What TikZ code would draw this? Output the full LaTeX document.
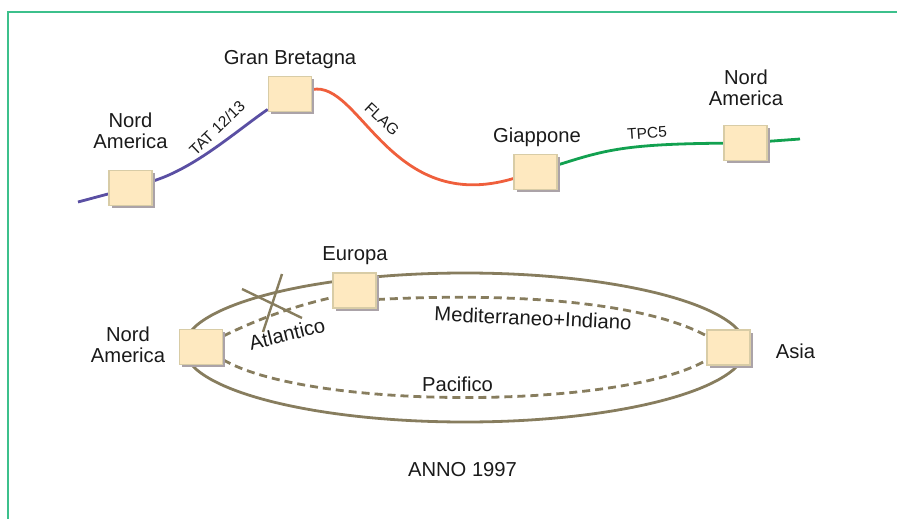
\documentclass[tikz,border=0pt]{standalone}
\usepackage{fontspec}
\setmainfont{Liberation Sans}
\usepackage{xcolor}
\usepackage{tikz}
\usetikzlibrary{shadows}
\definecolor{framegreen}{HTML}{3CC08C}
\definecolor{boxfill}{HTML}{FEE9C0}
\definecolor{boxrule}{HTML}{D8CCA6}
\definecolor{boxshadow}{HTML}{ABA3A8}
\definecolor{tatblue}{HTML}{5A4FA3}
\definecolor{flagred}{HTML}{EF5F3C}
\definecolor{tpcgreen}{HTML}{12A150}
\definecolor{ringolive}{HTML}{877D5E}
\definecolor{ink}{HTML}{1A1A1A}

\begin{document}
\begin{tikzpicture}[x={(1pt,0pt)},y={(0pt,-1pt)},
      stn/.style={draw=boxrule,fill=boxfill,line width=1.6pt,minimum width=43pt,
                  minimum height=35pt,inner sep=0pt,
                  drop shadow={shadow xshift=2.5pt,shadow yshift=-2.5pt,fill=boxshadow,opacity=1}},
      lbl/.style={font=\fontsize{20.2}{21}\selectfont,text=ink,inner sep=0pt,align=center,anchor=base},
      cbl/.style={font=\fontsize{15.5}{16}\selectfont,text=ink,inner sep=0pt},
      cable/.style={line width=2.8pt},
      ring/.style={draw=ringolive,line width=2.8pt},
      route/.style={draw=ringolive,line width=2.8pt,dash pattern=on 8pt off 5pt}]
    \useasboundingbox (0,0) rectangle (897,519);
    % frame
    \draw[framegreen,line width=1.8pt] (897,12) -- (8,12) -- (8,519);
    % ---- top: the 1997 chain of cables
    \coordinate (west) at (78,202);
    \coordinate (east) at (800,139);
    \foreach \n/\x/\y in {na1/130.5/188,gb/290/94,gia/535.5/172,na2/745.5/143}
      \node[stn] (\n) at (\x,\y) {};
    \draw[cable,tatblue] (west) -- (na1);
    \draw[cable,tatblue] (na1) .. controls (195,168) and (235,132) .. (gb);
    \draw[cable,flagred] (gb) .. controls (360,80) and (390,215) .. (gia);
    \draw[cable,tpcgreen] (gia) .. controls (605,150) and (625,144) .. (na2);
    \draw[cable,tpcgreen] (na2) -- (east);
    \foreach \n/\x/\y in {na1/130.5/188,gb/290/94,gia/535.5/172,na2/745.5/143}
      \node[stn] at (\x,\y) {};
    \node[lbl] (na1lbl) at (130.5,148) {Nord\\America};
    \node[lbl] (gblbl) at (290,64) {Gran Bretagna};
    \node[lbl] (gialbl) at (537,142) {Giappone};
    \node[lbl] (na2lbl) at (746,106) {Nord\\America};
    \node[cbl,rotate=44] (tat) at (217,128) {TAT 12/13};
    \node[cbl,rotate=-43] (flag) at (382,119) {FLAG};
    \node[cbl,rotate=4] (tpc) at (647,133) {TPC5};
    % ---- bottom: the ring
    \draw[ring] (465,347.5) ellipse [x radius=281,y radius=74.5];
    \draw[ringolive,line width=2.4pt] (242,289) -- (302,318);
    \draw[ringolive,line width=2.4pt] (282,274) -- (263,332);
    \foreach \n/\x/\y in {na3/201/347,eu/354.5/290.5,asia/728.5/347.5}
      \node[stn] (\n) at (\x,\y) {};
    \draw[route] (na3) .. controls (260,318) and (295,306) .. ([yshift=-7pt]eu.west);
    \draw[route] ([yshift=-9pt]eu.east) .. controls (520,292) and (645,303) .. (asia);
    \draw[route] (na3) .. controls (310,410) and (620,410) .. (asia);
    \foreach \n/\x/\y in {na3/201/347,eu/354.5/290.5,asia/728.5/347.5}
      \node[stn] at (\x,\y) {};
    \node[lbl] (na3lbl) at (128,362.5) {Nord\\America};
    \node[lbl] (eulbl) at (355,260) {Europa};
    \node[lbl] (asialbl) at (795.5,358) {Asia};
    \node[lbl,rotate=14,anchor=center] (atl) at (287,334) {Atlantico};
    \node[lbl,rotate=-2.5,anchor=center] (med) at (533,318) {Mediterraneo+Indiano};
    \node[lbl] (pac) at (457.5,391.5) {Pacifico};
    \node[lbl] (anno) at (462.5,476) {ANNO 1997};
  \end{tikzpicture}
\end{document}
